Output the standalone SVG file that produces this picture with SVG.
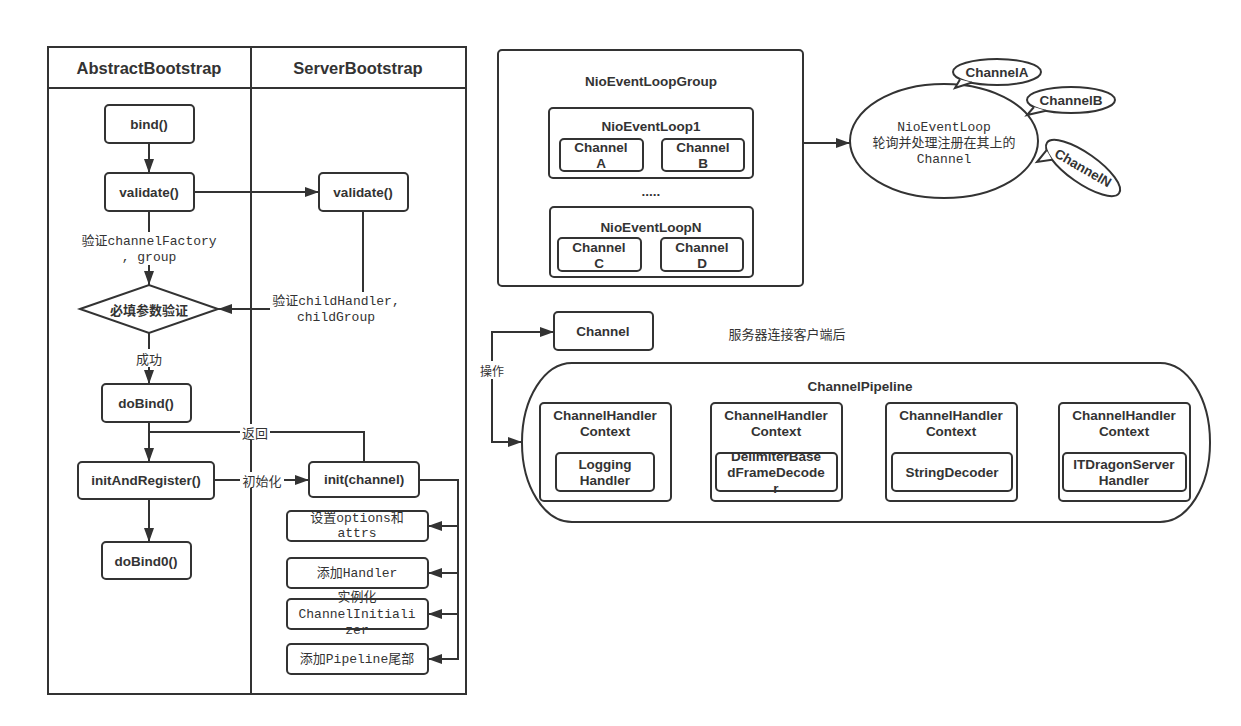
<svg xmlns="http://www.w3.org/2000/svg" width="1241" height="726" viewBox="0 0 1241 726">
<style>
.n{fill:#fff;stroke:#333;stroke-width:2}
.ln{fill:none;stroke:#333;stroke-width:2}
.t{font-family:"Liberation Sans","Noto Sans CJK SC",sans-serif;font-weight:bold;font-size:13.5px;fill:#333;text-anchor:middle;dominant-baseline:central}
.h{font-family:"Liberation Sans",sans-serif;font-weight:bold;font-size:16.5px;fill:#333;text-anchor:middle;dominant-baseline:central}
.m{font-family:"Liberation Mono","Noto Sans CJK SC",monospace;font-size:13px;fill:#333;text-anchor:middle;dominant-baseline:central}
.c{font-family:"Noto Sans CJK SC",sans-serif;font-size:13px;fill:#333;text-anchor:middle;dominant-baseline:central}
.bg{fill:#fff;stroke:none}
</style>
<defs>
<marker id="a" viewBox="0 0 14 10" refX="14" refY="5" markerWidth="14" markerHeight="10" markerUnits="userSpaceOnUse" orient="auto-start-reverse">
<path d="M0,0 L14,5 L0,10 z" fill="#333"/>
</marker>
</defs>
<rect width="1241" height="726" fill="#fff"/>

<g id="swimlane">
<rect x="48" y="47" width="418" height="647" class="ln"/>
<line x1="48" y1="88" x2="466" y2="88" class="ln"/>
<line x1="251" y1="47" x2="251" y2="694" class="ln"/>
<text x="149" y="68" class="h">AbstractBootstrap</text>
<text x="358" y="68" class="h">ServerBootstrap</text>
</g>

<g id="connectors">
<path d="M149,143 V173" class="ln" marker-end="url(#a)"/>
<path d="M194,192 H319" class="ln" marker-end="url(#a)"/>
<path d="M149,211 V285" class="ln" marker-end="url(#a)"/>
<path d="M363,211 V309 H218" class="ln" marker-end="url(#a)"/>
<path d="M149,333 V384" class="ln" marker-end="url(#a)"/>
<path d="M149,422 V462" class="ln" marker-end="url(#a)"/>
<path d="M364,462 V432 H149" class="ln"/>
<path d="M214,480 H309" class="ln" marker-end="url(#a)"/>
<path d="M149,499 V542" class="ln" marker-end="url(#a)"/>
<path d="M419,480 H458 V659 H428" class="ln" marker-end="url(#a)"/>
<path d="M458,526 H428" class="ln" marker-end="url(#a)"/>
<path d="M458,573 H428" class="ln" marker-end="url(#a)"/>
<path d="M458,614 H428" class="ln" marker-end="url(#a)"/>
<path d="M753,143 H850" class="ln" marker-end="url(#a)"/>
<path d="M554,332 H492 V442 H522" class="ln" marker-start="url(#a)" marker-end="url(#a)"/>
<path d="M671,452 H711" class="ln" marker-start="url(#a)" marker-end="url(#a)"/>
<path d="M842,452 H886" class="ln" marker-start="url(#a)" marker-end="url(#a)"/>
<path d="M1017,452 H1059" class="ln" marker-start="url(#a)" marker-end="url(#a)"/>
<rect x="80" y="232" width="140" height="33" class="bg"/>
<text x="149" y="241" class="m">验证channelFactory</text>
<text x="149" y="257" class="m">, group</text>
<rect x="270" y="292" width="132" height="34" class="bg"/>
<text x="336" y="301" class="m">验证childHandler,</text>
<text x="336" y="317" class="m">childGroup</text>
<rect x="132" y="349" width="34" height="18" class="bg"/>
<text x="149" y="358" class="c">成功</text>
<rect x="240" y="424" width="30" height="16" class="bg"/>
<text x="255" y="432" class="c">返回</text>
<rect x="240" y="472" width="44" height="16" class="bg"/>
<text x="262" y="480" class="c">初始化</text>
<rect x="478" y="361" width="28" height="18" class="bg"/>
<text x="492" y="370" class="c" style="font-size:12px">操作</text>
</g>

<g id="bind"><rect x="105" y="105" width="89" height="38" rx="4" class="n"/><text x="149" y="124" class="t">bind()</text></g>
<g id="validate1"><rect x="105" y="173" width="89" height="38" rx="4" class="n"/><text x="149" y="192" class="t">validate()</text></g>
<g id="validate2"><rect x="319" y="173" width="89" height="38" rx="4" class="n"/><text x="363" y="192" class="t">validate()</text></g>
<g id="check"><path d="M80,309 L149,285 L218,309 L149,333 z" class="n"/><text x="149" y="309" class="c" style="font-weight:bold">必填参数验证</text></g>
<g id="doBind"><rect x="102" y="384" width="89" height="38" rx="4" class="n"/><text x="146" y="403" class="t">doBind()</text></g>
<g id="initAndRegister"><rect x="78" y="462" width="136" height="37" rx="4" class="n"/><text x="146" y="480" class="t">initAndRegister()</text></g>
<g id="doBind0"><rect x="102" y="542" width="89" height="37" rx="4" class="n"/><text x="146" y="561" class="t">doBind0()</text></g>
<g id="initChannel"><rect x="309" y="462" width="110" height="35" rx="4" class="n"/><text x="364" y="479" class="t">init(channel)</text></g>
<g id="setOptions"><rect x="287" y="511" width="141" height="30" rx="4" class="n"/><text x="357" y="518" class="m">设置options和</text><text x="357" y="533" class="m">attrs</text></g>
<g id="addHandler"><rect x="287" y="558" width="141" height="30" rx="4" class="n"/><text x="357" y="573" class="m">添加Handler</text></g>
<g id="initializer"><rect x="287" y="599" width="141" height="30" rx="4" class="n"/><text x="357" y="597" class="m">实例化</text><text x="357" y="614" class="m">ChannelInitiali</text><text x="357" y="630" class="m">zer</text></g>
<g id="addPipeline"><rect x="287" y="644" width="141" height="30" rx="4" class="n"/><text x="357" y="659" class="m">添加Pipeline尾部</text></g>

<g id="group">
<rect x="498" y="50" width="305" height="236" rx="4" class="n"/>
<text x="651" y="81" class="t">NioEventLoopGroup</text>
<text x="651" y="191" class="t">.....</text>
</g>
<g id="loop1">
<rect x="549" y="108" width="204" height="70" rx="4" class="n"/>
<text x="651" y="126" class="t">NioEventLoop1</text>
</g>
<g id="chA"><rect x="560" y="139" width="83" height="32" rx="4" class="n"/><text x="601" y="147" class="t">Channel</text><text x="601" y="163" class="t">A</text></g>
<g id="chB"><rect x="662" y="139" width="82" height="32" rx="4" class="n"/><text x="703" y="147" class="t">Channel</text><text x="703" y="163" class="t">B</text></g>
<g id="loopN">
<rect x="550" y="207" width="203" height="70" rx="4" class="n"/>
<text x="651" y="227" class="t">NioEventLoopN</text>
</g>
<g id="chC"><rect x="558" y="238" width="83" height="33" rx="4" class="n"/><text x="599" y="247" class="t">Channel</text><text x="599" y="263" class="t">C</text></g>
<g id="chD"><rect x="661" y="238" width="82" height="33" rx="4" class="n"/><text x="702" y="247" class="t">Channel</text><text x="702" y="263" class="t">D</text></g>

<g id="eventloop">
<ellipse cx="944" cy="141" rx="94" ry="57" class="n"/>
<text x="944" y="127" class="m">NioEventLoop</text>
<text x="944" y="143" class="m">轮询并处理注册在其上的</text>
<text x="944" y="159" class="m">Channel</text>
</g>
<g id="bubbleA">
<ellipse cx="997" cy="72" rx="44" ry="13" class="n"/>
<path d="M960,79.5 L955,88 L972,82.5" class="n"/>
<text x="997" y="72" class="t">ChannelA</text>
</g>
<g id="bubbleB">
<ellipse cx="1071" cy="100" rx="44" ry="13" class="n"/>
<path d="M1034,107 L1027,115 L1046,110.7" class="n"/>
<text x="1071" y="100" class="t">ChannelB</text>
</g>
<g id="bubbleN">
<ellipse cx="1083" cy="168" rx="44" ry="15" transform="rotate(35 1083 168)" class="n"/>
<path d="M1046.6,150.2 L1037,162 L1052,159.8" class="n"/>
<text x="1083" y="168" class="t" transform="rotate(30 1083 168)">ChannelN</text>
</g>

<g id="channel"><rect x="554" y="312" width="99" height="38" rx="4" class="n"/><text x="603" y="331" class="t">Channel</text></g>
<g id="note"><text x="787" y="333" class="c">服务器连接客户端后</text></g>

<g id="pipeline">
<rect x="522" y="363" width="688" height="159" rx="50" ry="79" class="n"/>
<text x="860" y="386" class="t">ChannelPipeline</text>
</g>
<g id="ctx1"><rect x="540" y="403" width="131" height="98" rx="4" class="n"/><text x="605" y="415" class="t">ChannelHandler</text><text x="605" y="431" class="t">Context</text>
<rect x="556" y="453" width="98" height="38" rx="4" class="n"/><text x="605" y="464" class="t">Logging</text><text x="605" y="480" class="t">Handler</text></g>
<g id="ctx2"><rect x="711" y="403" width="131" height="98" rx="4" class="n"/><text x="776" y="415" class="t">ChannelHandler</text><text x="776" y="431" class="t">Context</text>
<rect x="716" y="453" width="121" height="38" rx="4" class="n"/><text x="776" y="456" class="t">DelimiterBase</text><text x="776" y="472" class="t">dFrameDecode</text><text x="776" y="488" class="t">r</text></g>
<g id="ctx3"><rect x="886" y="403" width="131" height="98" rx="4" class="n"/><text x="951" y="415" class="t">ChannelHandler</text><text x="951" y="431" class="t">Context</text>
<rect x="892" y="453" width="120" height="38" rx="4" class="n"/><text x="952" y="472" class="t">StringDecoder</text></g>
<g id="ctx4"><rect x="1059" y="403" width="131" height="98" rx="4" class="n"/><text x="1124" y="415" class="t">ChannelHandler</text><text x="1124" y="431" class="t">Context</text>
<rect x="1063" y="453" width="123" height="38" rx="4" class="n"/><text x="1124" y="464" class="t">ITDragonServer</text><text x="1124" y="480" class="t">Handler</text></g>
</svg>
